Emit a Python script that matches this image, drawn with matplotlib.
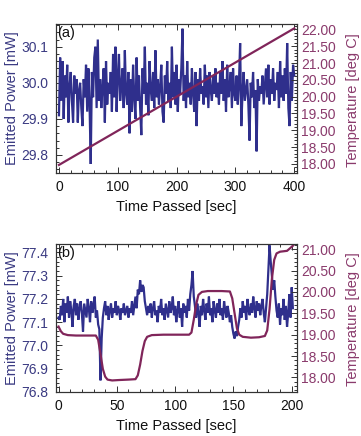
import matplotlib
matplotlib.use('Agg')
import matplotlib.pyplot as plt
from matplotlib.ticker import MultipleLocator, FormatStrFormatter

plt.rcParams['font.family'] = ['Liberation Sans', 'DejaVu Sans']

BLUE = '#2f2f8c'
BLUE_TXT = '#3a3a82'
PURP = '#80255a'
PURP_TXT = '#8a3a6c'

# ---------------- Panel (a) data ----------------
time_a = list(range(0, 401, 2))
power_a = [
    29.91, 30.07, 29.95, 30.06, 29.90, 30.02, 29.96, 30.05, 29.89, 29.99,
    30.03, 29.95, 29.89, 30.02, 29.97, 30.01, 29.89, 29.98, 30.00, 29.93,
    29.88, 30.01, 29.96, 30.05, 29.92, 30.04, 29.94, 29.775, 30.03, 29.96,
    30.07, 30.10, 29.93, 30.12, 29.95, 30.01, 29.93, 29.99, 30.04, 29.89,
    30.06, 29.94, 30.00, 29.97, 30.03, 29.92, 30.08, 29.96, 30.10, 29.92,
    30.02, 30.08, 29.95, 29.99, 30.04, 29.93, 30.09, 29.97, 29.94, 30.03,
    29.86, 30.01, 29.92, 30.05, 29.96, 29.90, 30.07, 29.95, 30.02, 29.93,
    29.855, 30.04, 29.97, 30.10, 29.94, 30.00, 29.91, 30.06, 29.98, 29.95,
    30.03, 29.93, 30.09, 29.96, 30.01, 29.94, 29.99, 30.05, 29.92, 29.89,
    30.02, 29.97, 30.06, 29.95, 30.00, 29.93, 30.10, 29.96, 30.03, 29.94,
    30.05, 29.92, 30.01, 29.97, 30.04, 30.15, 29.95, 30.02, 29.93, 30.06,
    29.96, 30.00, 29.94, 30.04, 29.97, 29.92, 30.03, 29.88, 30.01, 29.95,
    30.04, 29.97, 29.99, 29.94, 30.05, 29.96, 30.02, 29.93, 30.03, 29.98,
    29.95, 30.02, 29.97, 30.04, 29.96, 30.00, 29.94, 30.03, 29.97, 30.06,
    29.95, 30.01, 29.92, 30.05, 29.96, 29.99, 30.03, 29.93, 30.04, 29.97,
    29.95, 30.02, 29.94, 30.00, 30.11, 29.88, 29.97, 30.03, 29.95, 29.98,
    30.01, 29.94, 29.84, 30.00, 29.96, 30.03, 29.93, 29.98, 29.81, 30.01,
    29.95, 29.99, 29.97, 30.02, 29.94, 29.99, 30.04, 29.96, 30.05, 29.94,
    30.01, 29.97, 30.04, 29.95, 30.00, 29.98, 30.03, 29.93, 30.06, 29.96,
    30.02, 29.95, 30.04, 29.97, 30.11, 29.93, 29.88, 30.03, 29.95, 30.05,
    30.02,
]
temp_a_time = [0, 400]
temp_a = [17.97, 22.03]

# ---------------- Panel (b) data ----------------
time_b = list(range(0, 202))
power_b = [
    77.12, 77.11, 77.17, 77.13, 77.20, 77.10, 77.18, 77.14, 77.21, 77.12,
    77.19, 77.15, 77.08, 77.17, 77.20, 77.13, 77.18, 77.11, 77.16, 77.19,
    77.14, 77.06, 77.18, 77.15, 77.12, 77.20, 77.16, 77.10, 77.19, 77.14,
    77.17, 77.21, 77.12, 77.15, 77.09, 77.07, 76.85, 77.03, 77.12, 77.16,
    77.19, 77.13, 77.17, 77.11, 77.15, 77.18, 77.12, 77.16, 77.14, 77.19,
    77.13, 77.17, 77.15, 77.11, 77.16, 77.14, 77.18, 77.13, 77.15, 77.17,
    77.12, 77.16, 77.14, 77.19, 77.13, 77.17, 77.21, 77.16, 77.24, 77.22,
    77.28, 77.23, 77.26, 77.25, 77.19, 77.16, 77.13, 77.17, 77.14, 77.18,
    77.12, 77.16, 77.19, 77.13, 77.15, 77.10, 77.17, 77.14, 77.20, 77.13,
    77.16, 77.11, 77.18, 77.15, 77.12, 77.19, 77.14, 77.16, 77.21, 77.13,
    77.17, 77.10, 77.15, 77.19, 77.12, 77.16, 77.08, 77.18, 77.14, 77.17,
    77.12, 77.20, 77.15, 77.22, 77.26, 77.32, 77.21, 77.17, 77.12, 77.18,
    77.14, 77.08, 77.17, 77.13, 77.20, 77.15, 77.11, 77.18, 77.14, 77.21,
    77.13, 77.16, 77.10, 77.19, 77.15, 77.12, 77.18, 77.14, 77.20, 77.13,
    77.16, 77.11, 77.19, 77.15, 77.12, 77.17, 77.14, 77.10, 77.13, 77.08,
    77.05, 77.03, 77.06, 77.04, 77.08, 77.11, 77.16, 77.12, 77.19, 77.14,
    77.17, 77.11, 77.20, 77.15, 77.13, 77.18, 77.14, 77.21, 77.16, 77.12,
    77.19, 77.15, 77.18, 77.13, 77.17, 77.20, 77.14, 77.10, 77.16, 77.22,
    77.33, 77.43, 77.36, 77.30, 77.24, 77.28, 77.21, 77.15, 77.12, 77.18,
    77.09, 77.16, 77.13, 77.20, 77.11, 77.17, 77.08, 77.14, 77.22, 77.12,
    77.25, 77.16,
]
temp_b_time = [0, 2, 4, 8, 15, 25, 32, 34, 36, 38, 40, 42, 46, 52, 60, 66,
               68, 70, 72, 74, 76, 80, 90, 100, 112, 114, 116, 118, 120, 123,
               128, 140, 147, 149, 151, 153, 155, 158, 165, 172, 177, 179, 181,
               183, 185, 187, 190, 196, 199, 201]
temp_b = [19.19, 19.08, 19.02, 18.99, 18.98, 18.98, 18.98, 18.88, 18.55, 18.20,
          18.02, 17.95, 17.93, 17.94, 17.95, 17.96, 18.05, 18.30, 18.62, 18.85,
          18.95, 18.99, 19.00, 19.00, 19.00, 19.05, 19.35, 19.70, 19.93, 20.00,
          20.02, 20.02, 20.01, 19.85, 19.50, 19.15, 19.00, 18.95, 18.93, 18.94,
          18.97, 19.10, 19.60, 20.30, 20.75, 20.90, 20.94, 20.96, 21.03, 21.08]

W, H = 361.0, 436.0
fig = plt.figure(figsize=(3.61, 4.36), dpi=100)
fig.patch.set_facecolor('white')

FRAME = '#333333'


def panel(rect, t, p, tt, tv, xlim, ylimL, ylimR, xmaj, xmin, ymajL, yminL,
          fmtL, tag):
    ax = fig.add_axes(rect)
    ax.plot(t, p, color=BLUE, lw=1.6, solid_joinstyle='miter')
    ax.set_xlim(*xlim)
    ax.set_ylim(*ylimL)
    ax.xaxis.set_major_locator(MultipleLocator(xmaj))
    ax.xaxis.set_minor_locator(MultipleLocator(xmin))
    ax.yaxis.set_major_locator(MultipleLocator(ymajL))
    ax.yaxis.set_minor_locator(MultipleLocator(yminL))
    ax.yaxis.set_major_formatter(FormatStrFormatter(fmtL))
    ax.tick_params(which='both', direction='in', top=True, right=False,
                   color=FRAME, width=0.7)
    ax.tick_params(which='major', length=4)
    ax.tick_params(which='minor', length=2)
    ax.tick_params(axis='x', labelsize=10, labelcolor='#111111', pad=5)
    ax.tick_params(axis='y', labelsize=10, labelcolor=BLUE_TXT, pad=5)
    ax.set_xlabel('Time Passed [sec]', fontsize=10.5, color='#111111', labelpad=4)
    ax.set_ylabel('Emitted Power [mW]', fontsize=10.5, color=BLUE_TXT)
    ax.yaxis.set_label_coords(-0.15, 0.5)
    for s in ax.spines.values():
        s.set_color(FRAME)
        s.set_linewidth(0.8)
    ax.text(0.008, 0.985, tag, transform=ax.transAxes, ha='left', va='top',
            fontsize=10.5, color='#111111')

    ax2 = ax.twinx()
    ax2.plot(tt, tv, color=PURP, lw=1.6)
    ax2.set_ylim(*ylimR)
    ax2.yaxis.set_major_locator(MultipleLocator(0.5))
    ax2.yaxis.set_minor_locator(MultipleLocator(0.1))
    ax2.yaxis.set_major_formatter(FormatStrFormatter('%.2f'))
    ax2.tick_params(which='both', direction='in', left=False, right=True,
                    color=FRAME, width=0.7)
    ax2.tick_params(which='major', length=4)
    ax2.tick_params(which='minor', length=2)
    ax2.tick_params(axis='y', labelsize=10, labelcolor=PURP_TXT, pad=3)
    ax2.set_ylabel('Temperature [deg C]', fontsize=10.5, color=PURP_TXT)
    ax2.yaxis.set_label_coords(1.2, 0.49)
    for s in ax2.spines.values():
        s.set_color(FRAME)
        s.set_linewidth(0.8)
    return ax, ax2


left = 55.5 / W
width = (297.3 - 55.5) / W

panel([left, 1 - 173 / H, width, 149 / H], time_a, power_a, temp_a_time, temp_a,
      (-5.9, 405.2), (29.75, 30.163), (17.73, 22.16), 100, 20, 0.1, 0.02,
      '%.1f', '(a)')

panel([left, 1 - 392 / H, width, 148 / H], time_b, power_b, temp_b_time, temp_b,
      (-2.6, 204.8), (76.8, 77.436), (17.66, 21.12), 50, 10, 0.1, 0.02,
      '%.1f', '(b)')

fig.savefig('out.png', dpi=100)
